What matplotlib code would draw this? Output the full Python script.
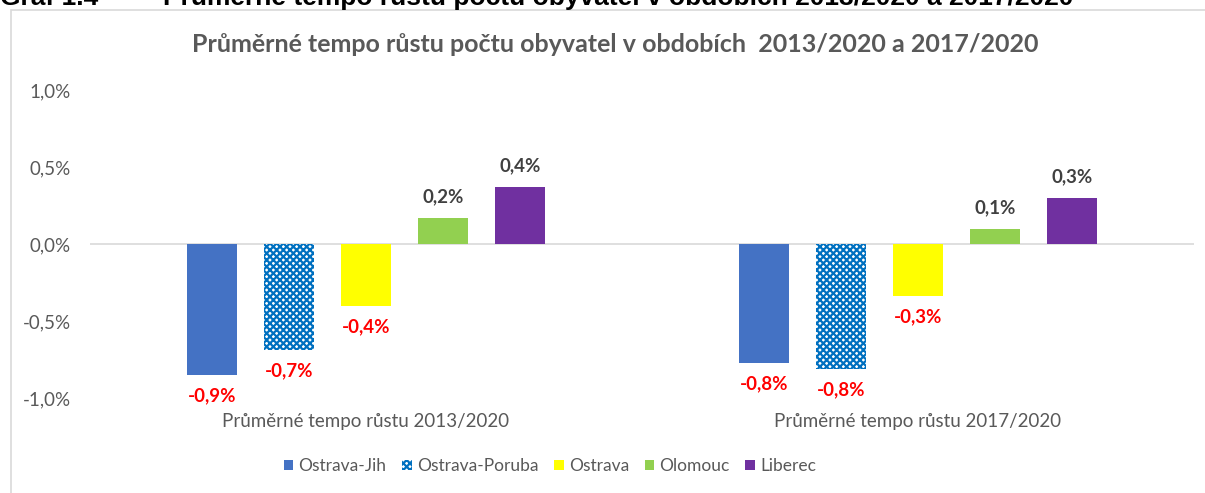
import matplotlib

matplotlib.use("Agg")
import matplotlib.pyplot as plt
import numpy as np
from matplotlib.patches import Rectangle

plt.rcParams["font.family"] = ["Lato", "DejaVu Sans"]
plt.rcParams["hatch.linewidth"] = 1.6

CATEGORIES = ["Průměrné tempo růstu 2013/2020", "Průměrné tempo růstu 2017/2020"]
SERIES = ["Ostrava-Jih", "Ostrava-Poruba", "Ostrava", "Olomouc", "Liberec"]
VALUES = {
    "Ostrava-Jih": [-0.85, -0.77],
    "Ostrava-Poruba": [-0.69, -0.81],
    "Ostrava": [-0.40, -0.34],
    "Olomouc": [0.17, 0.10],
    "Liberec": [0.37, 0.30],
}
LABELS = {
    "Ostrava-Jih": ["-0,9%", "-0,8%"],
    "Ostrava-Poruba": ["-0,7%", "-0,8%"],
    "Ostrava": ["-0,4%", "-0,3%"],
    "Olomouc": ["0,2%", "0,1%"],
    "Liberec": ["0,4%", "0,3%"],
}
COLORS = {
    "Ostrava-Jih": "#4472C4",
    "Ostrava-Poruba": "#0070C0",
    "Ostrava": "#FFFF00",
    "Olomouc": "#92D050",
    "Liberec": "#7030A0",
}
YTICKS = [-1.0, -0.5, 0.0, 0.5, 1.0]
YTICKLABELS = ["-1,0%", "-0,5%", "0,0%", "0,5%", "1,0%"]
TITLE = "Průměrné tempo růstu počtu obyvatel v obdobích  2013/2020 a 2017/2020"
HEADING_NO = "Graf 1.4"
HEADING = "Průměrné tempo růstu počtu obyvatel v obdobích 2013/2020 a 2017/2020"

GRAY = "#595959"
FS = 13.5

fig = plt.figure(figsize=(12.05, 4.93), dpi=100)
fig.patches.append(Rectangle((11 / 1205, -0.1), 1.2, 1 - 10 / 493 + 0.1,
                             transform=fig.transFigure, fill=False,
                             edgecolor="#D9D9D9", linewidth=1.2))
# nadpis grafu z dokumentu, oriznuty nahore jako v predloze
fig.text(0.0, 1 - 5 / 493, HEADING_NO, fontsize=19, fontweight="bold",
         family=["Liberation Sans", "DejaVu Sans"], color="black", va="baseline")
fig.text(163 / 1205, 1 - 5 / 493, HEADING, fontsize=19, fontweight="bold",
         family=["Liberation Sans", "DejaVu Sans"], color="black", va="baseline")

ax = fig.add_axes([90 / 1205, 1 - 398 / 493, 1104 / 1205, 308 / 493])
x = np.arange(len(CATEGORIES))
step = 0.1395
width = 0.0906
for i, name in enumerate(SERIES):
    pos = x + (i - 2) * step
    vals = VALUES[name]
    if name == "Ostrava-Poruba":
        bars = ax.bar(pos, vals, width, color="white", edgecolor=COLORS[name],
                      hatch="xxxxx", linewidth=0, label=name)
    else:
        bars = ax.bar(pos, vals, width, color=COLORS[name], label=name)
    for b, v, lbl in zip(bars, vals, LABELS[name]):
        if v >= 0:
            ax.text(b.get_x() + width / 2, v + 0.08, lbl, ha="center", va="bottom",
                    fontsize=FS, fontweight="bold", color="#404040")
        else:
            ax.text(b.get_x() + width / 2, v - 0.08, lbl, ha="center", va="top",
                    fontsize=FS, fontweight="bold", color="#FF0000")

ax.axhline(0, color="#D9D9D9", linewidth=1.2, zorder=0)
ax.set_xlim(-0.5, 1.5)
ax.set_ylim(-1.0, 1.0)
ax.set_yticks(YTICKS, YTICKLABELS, fontsize=FS, color=GRAY)
ax.set_xticks([])
for i, cat in enumerate(CATEGORIES):
    ax.text(x[i], -1.0 - 0.1, cat, ha="center", va="top", fontsize=FS,
            color=GRAY, clip_on=False)
ax.tick_params(axis="y", length=0, pad=14)
for s in ax.spines.values():
    s.set_visible(False)

fig.text(615 / 1205, 1 - 45 / 493, TITLE, ha="center", va="center",
         fontsize=18, fontweight="bold", color=GRAY)

fig.legend(loc="center", bbox_to_anchor=(550 / 1205, 1 - 466 / 493), ncol=5,
           frameon=False, fontsize=12.5, labelcolor=GRAY, handlelength=0.55,
           handleheight=0.55, handletextpad=0.3, columnspacing=0.9)

fig.savefig("out.png", dpi=100)
